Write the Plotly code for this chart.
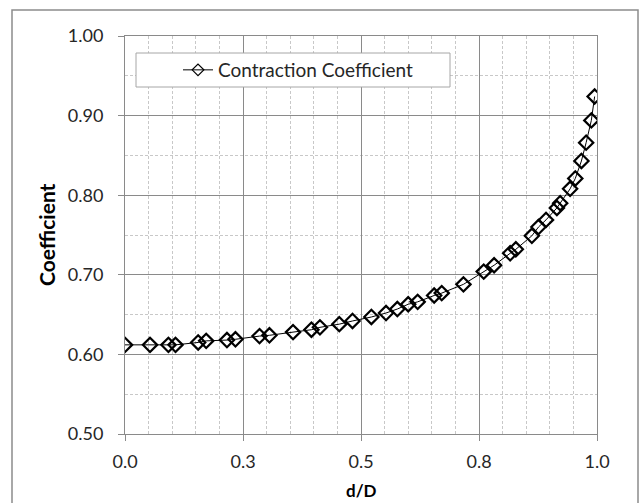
import plotly.graph_objects as go

# ---- data ----
d_over_D = [0.000, 0.053, 0.092, 0.107, 0.155, 0.172, 0.216, 0.234, 0.285, 0.306,
            0.356, 0.395, 0.413, 0.454, 0.482, 0.522, 0.553, 0.577, 0.600, 0.620,
            0.655, 0.671, 0.717, 0.760, 0.782, 0.816, 0.828, 0.862, 0.876, 0.892,
            0.915, 0.922, 0.943, 0.954, 0.967, 0.977, 0.988, 0.995]
coefficient = [0.612, 0.612, 0.612, 0.612, 0.615, 0.617, 0.618, 0.619, 0.623, 0.624,
               0.628, 0.631, 0.634, 0.638, 0.642, 0.647, 0.652, 0.657, 0.663, 0.666,
               0.674, 0.677, 0.688, 0.704, 0.712, 0.727, 0.732, 0.749, 0.760, 0.769,
               0.784, 0.790, 0.808, 0.821, 0.843, 0.866, 0.894, 0.924]

series_name = "Contraction Coefficient"
x_tick_vals = [0.0, 0.25, 0.5, 0.75, 1.0]
x_tick_text = ["0.0", "0.3", "0.5", "0.8", "1.0"]
y_tick_vals = [0.5, 0.6, 0.7, 0.8, 0.9, 1.0]
y_tick_text = ["0.50", "0.60", "0.70", "0.80", "0.90", "1.00"]
x_title = "d/D"
y_title = "Coefficient"

FONT = "Lato"
GRID = "#8a8a8a"
MINOR = "#c8c8c8"
TXT = "#262626"

W, H = 642, 503
ML, MR, MT, MB = 125, 45, 36, 69
PW, PH = W - ML - MR, H - MT - MB


def fx(px):
    return (px - ML) / PW


def fy(py):
    return (H - MB - py) / PH


fig = go.Figure()
fig.add_trace(go.Scatter(
    x=d_over_D, y=coefficient, mode="lines+markers", name=series_name,
    line=dict(color="#000000", width=1),
    marker=dict(symbol="diamond-open", size=11, color="#000000",
                line=dict(width=2.2, color="#000000")),
    showlegend=False, legendgroup="cc",
))
# legend entry (smaller symbol, like the reference legend)
fig.add_trace(go.Scatter(
    x=[None], y=[None], mode="lines+markers", name=series_name,
    line=dict(color="#000000", width=1),
    marker=dict(symbol="diamond-open", size=9, color="#000000",
                line=dict(width=1.2, color="#000000")),
    showlegend=True, legendgroup="cc",
))

axis_common = dict(
    showline=True, linecolor=GRID, linewidth=1, mirror=True,
    showgrid=True, gridcolor=GRID, gridwidth=1,
    ticks="outside", ticklen=6, tickcolor=GRID, tickwidth=1,
    tickfont=dict(family=FONT, size=18, color=TXT),
    zeroline=False,
)

fig.update_xaxes(
    range=[0, 1], tickmode="array", tickvals=x_tick_vals, ticktext=x_tick_text,
    minor=dict(dtick=0.05, showgrid=True, gridcolor=MINOR, griddash="3px,2px",
               gridwidth=1, ticks=""),
    ticklabelstandoff=5,
    **axis_common,
)
fig.update_yaxes(
    range=[0.5, 1.0], tickmode="array", tickvals=y_tick_vals, ticktext=y_tick_text,
    minor=dict(dtick=0.05, showgrid=True, gridcolor=MINOR, griddash="3px,2px",
               gridwidth=1, ticks=""),
    ticklabelstandoff=11,
    **axis_common,
)

fig.update_layout(
    width=W, height=H,
    margin=dict(l=ML, r=MR, t=MT, b=MB),
    paper_bgcolor="white", plot_bgcolor="white",
    font=dict(family=FONT, color=TXT),
    showlegend=True,
    legend=dict(
        x=fx(178), y=fy(70), xanchor="left", yanchor="middle",
        bgcolor="rgba(0,0,0,0)", borderwidth=0,
        font=dict(family=FONT, size=19, color=TXT),
        itemwidth=30,
    ),
    shapes=[
        # outer chart border
        dict(type="rect", xref="paper", yref="paper",
             x0=fx(12), x1=fx(638), y0=fy(515), y1=fy(10),
             line=dict(color="#8c8c8c", width=1.5), fillcolor="rgba(0,0,0,0)",
             layer="below"),
        # legend frame
        dict(type="rect", xref="paper", yref="paper",
             x0=fx(136), x1=fx(450), y0=fy(87), y1=fy(53),
             line=dict(color="#a6a6a6", width=1), fillcolor="white",
             layer="above"),
    ],
    annotations=[
        dict(text=f"<b>{y_title}</b>", xref="paper", yref="paper",
             x=fx(46), y=fy(235), xanchor="center", yanchor="middle",
             textangle=-90, showarrow=False,
             font=dict(family=FONT, size=21, color="#000000")),
        dict(text=f"<b>{x_title}</b>", xref="paper", yref="paper",
             x=fx(361), y=fy(502), xanchor="center", yanchor="bottom",
             showarrow=False, borderpad=0,
             font=dict(family=FONT, size=17, color="#000000")),
    ],
)

fig.write_html("out.html")
